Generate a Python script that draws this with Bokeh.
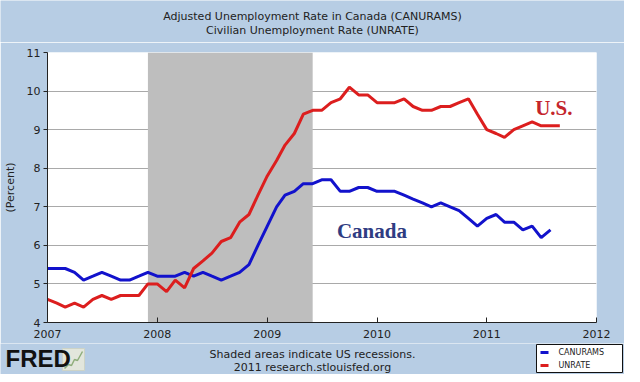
import pandas as pd
from bokeh.plotting import figure
from bokeh.layouts import column
from bokeh.models import (Range1d, FixedTicker, DatetimeTickFormatter, BoxAnnotation,
                          Label, ColumnDataSource)
from bokeh.embed import file_html
from bokeh.resources import INLINE

# ---------------- data (monthly, starting Jan 2007) ----------------
start_month = "2007-01-01"
canurams = [
    5.4, 5.4, 5.4, 5.3, 5.1, 5.2, 5.3, 5.2, 5.1, 5.1, 5.2, 5.3,   # 2007
    5.2, 5.2, 5.2, 5.3, 5.2, 5.3, 5.2, 5.1, 5.2, 5.3, 5.5, 6.0,   # 2008
    6.5, 7.0, 7.3, 7.4, 7.6, 7.6, 7.7, 7.7, 7.4, 7.4, 7.5, 7.5,   # 2009
    7.4, 7.4, 7.4, 7.3, 7.2, 7.1, 7.0, 7.1, 7.0, 6.9, 6.7, 6.5,   # 2010
    6.7, 6.8, 6.6, 6.6, 6.4, 6.5, 6.2, 6.4,                       # 2011
]
unrate = [
    4.6, 4.5, 4.4, 4.5, 4.4, 4.6, 4.7, 4.6, 4.7, 4.7, 4.7, 5.0,   # 2007
    5.0, 4.8, 5.1, 4.9, 5.4, 5.6, 5.8, 6.1, 6.2, 6.6, 6.8, 7.3,   # 2008
    7.8, 8.2, 8.6, 8.9, 9.4, 9.5, 9.5, 9.7, 9.8, 10.1, 9.9, 9.9,  # 2009
    9.7, 9.7, 9.7, 9.8, 9.6, 9.5, 9.5, 9.6, 9.6, 9.7, 9.8, 9.4,   # 2010
    9.0, 8.9, 8.8, 9.0, 9.1, 9.2, 9.1, 9.1, 9.1,                  # 2011
]
recession_start = "2007-12-01"
recession_end = "2009-06-01"
year_ticks = ["2007-01-01", "2008-01-01", "2009-01-01", "2010-01-01", "2011-01-01", "2012-01-01"]
y_ticks = [4, 5, 6, 7, 8, 9, 10, 11]
series_names = ["CANURAMS", "UNRATE"]
series_colors = ["#1212cc", "#dc1e1e"]
line_labels = ["Canada", "U.S."]
title_lines = ["Adjusted Unemployment Rate in Canada (CANURAMS)",
               "Civilian Unemployment Rate (UNRATE)"]
notes = ["Shaded areas indicate US recessions.", "2011 research.stlouisfed.org"]


def ms(d):
    return pd.Timestamp(d).value / 1e6


can_src = ColumnDataSource(dict(
    date=pd.date_range(start_month, periods=len(canurams), freq="MS"), rate=canurams))
us_src = ColumnDataSource(dict(
    date=pd.date_range(start_month, periods=len(unrate), freq="MS"), rate=unrate))

# ---------------- layout ----------------
W = 624
TOP_H, MAIN_H, BOT_H = 42, 301, 31
FL, FR = 39, 596          # frame left/right (px)
BG = "#b7cde4"
FONT = "DejaVu Sans"


def strip(h):
    f = figure(width=W, height=h, x_range=Range1d(0, W), y_range=Range1d(0, h),
               x_axis_location=None, y_axis_location=None, title=None,
               output_backend="svg", toolbar_location=None, min_border=0)
    f.frame_align = False
    f.grid.visible = False
    f.outline_line_color = None
    f.background_fill_color = BG
    f.border_fill_color = BG
    return f


def add_text(f, h, xc, yc, text, size="11px", align="center", font=FONT,
             style="normal", color="#222222"):
    f.add_layout(Label(x=xc, y=h - yc, text=text, text_align=align, text_baseline="middle",
                       text_font=font, text_font_style=style, text_font_size=size,
                       text_color=color))


# --- top strip: titles ---
top = strip(TOP_H)
add_text(top, TOP_H, 312, 16, title_lines[0])
add_text(top, TOP_H, 312, 30, title_lines[1])

# --- main chart ---
p = figure(width=W, height=MAIN_H, x_axis_type="datetime", title=None,
           x_range=Range1d(ms(year_ticks[0]), ms(year_ticks[-1])),
           y_range=Range1d(y_ticks[0], y_ticks[-1]),
           output_backend="svg", toolbar_location=None,
           min_border_left=FL, min_border_right=W - FR,
           min_border_top=10, min_border_bottom=21)
p.frame_align = False
p.background_fill_color = "white"
p.border_fill_color = BG
p.outline_line_color = None

p.xgrid.grid_line_color = None
p.ygrid.grid_line_color = "#a9a9a9"
p.ygrid.ticker = FixedTicker(ticks=y_ticks)

p.yaxis.ticker = FixedTicker(ticks=y_ticks)
p.yaxis.axis_label = "(Percent)"
p.yaxis.axis_label_text_font_style = "normal"
p.yaxis.axis_label_text_font_size = "11px"
p.yaxis.axis_label_text_font = FONT
p.yaxis.axis_label_text_color = "#222222"
p.yaxis.axis_label_standoff = 7
p.yaxis.major_tick_out = 4
p.yaxis.major_tick_in = 0
p.yaxis.major_label_standoff = 3

p.xaxis.ticker = FixedTicker(ticks=[ms(d) for d in year_ticks])
p.xaxis.formatter = DatetimeTickFormatter(years="%Y", months="%Y", days="%Y", hours="%Y")
p.xaxis.major_tick_in = 5
p.xaxis.major_tick_out = 0
p.xaxis.major_label_standoff = 7

for ax in (p.xaxis[0], p.yaxis[0]):
    ax.minor_tick_line_color = None
    ax.axis_line_color = "#222222"
    ax.major_tick_line_color = "#222222"
    ax.major_label_text_font = FONT
    ax.major_label_text_font_size = "11px"
    ax.major_label_text_color = "#222222"

# recession shading
p.add_layout(BoxAnnotation(left=ms(recession_start), right=ms(recession_end),
                           fill_color="#bebebe", fill_alpha=1.0, line_color=None,
                           level="underlay"))

p.line("date", "rate", source=can_src, line_color=series_colors[0], line_width=3)
p.line("date", "rate", source=us_src, line_color=series_colors[1], line_width=3)

# in-chart series labels
p.add_layout(Label(x=ms("2009-12-15"), y=6.37, text=line_labels[0], text_align="center",
                   text_baseline="middle", text_font="Liberation Serif", text_font_style="bold",
                   text_font_size="21px", text_color="#2f3c82"))
p.add_layout(Label(x=ms("2011-08-12"), y=9.57, text=line_labels[1], text_align="center",
                   text_baseline="middle", text_font="Liberation Serif", text_font_style="bold",
                   text_font_size="21px", text_color="#c4252b"))

# --- bottom strip: logo, notes, legend ---
bot = strip(BOT_H)
add_text(bot, BOT_H, 5, 15, "FRED", size="24px", align="left", font="Liberation Sans",
         style="bold", color="#111111")
# small logo tile next to FRED
bot.quad(left=[62], right=[84], bottom=[BOT_H - 27], top=[BOT_H - 5],
         fill_color="#e2e6dc", line_color="#cdd3c6")
bot.line(x=[64, 68, 71, 74, 77, 82], y=[BOT_H - 25, BOT_H - 21, BOT_H - 22, BOT_H - 16,
                                         BOT_H - 17, BOT_H - 8],
         line_color="#8fae7c", line_width=1.5)
add_text(bot, BOT_H, 312, 11, notes[0])
add_text(bot, BOT_H, 312, 24, notes[1])

# legend box (drawn by hand so it can sit in the lower-right corner)
LX0, LX1, LY0, LY1 = 536, 622, 1, 29          # box edges, px from strip top
bot.quad(left=[LX0], right=[LX1], top=[BOT_H - LY0], bottom=[BOT_H - LY1],
         fill_color="white", line_color="#111111", line_width=1)
for i, (name, col) in enumerate(zip(series_names, series_colors)):
    yy = BOT_H - (LY0 + 8 + i * 13)
    bot.segment(x0=[LX0 + 4], x1=[LX0 + 12], y0=[yy], y1=[yy], line_color=col, line_width=3)
    bot.add_layout(Label(x=LX0 + 22, y=yy, text=name, text_align="left",
                         text_baseline="middle", text_font=FONT, text_font_size="8px",
                         text_color="#222222"))

layout = column(top, p, bot, spacing=0)
open("out.html", "w").write(file_html(layout, INLINE))
